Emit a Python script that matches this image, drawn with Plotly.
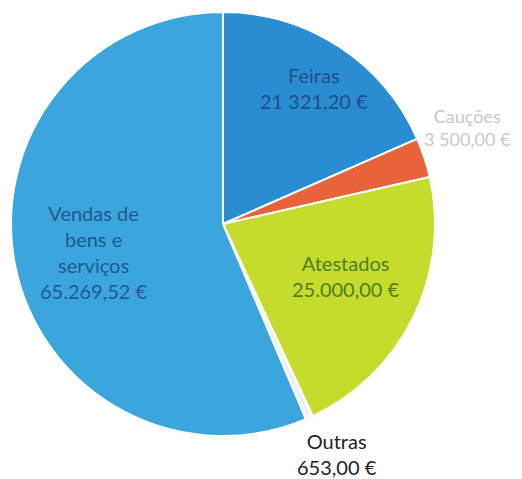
import plotly.graph_objects as go

labels = ["Feiras", "Cauções", "Atestados", "Outras", "Vendas de bens e serviços"]
values = [21321.20, 3500.00, 25000.00, 653.00, 65269.52]
label_texts = ["Feiras<br>21 321,20 €", "Cauções<br>3 500,00 €", "Atestados<br>25.000,00 €",
               "Outras<br>653,00 €", "Vendas de<br>bens e<br>serviços<br>65.269,52 €"]
colors = ["#2a8dd2", "#e8623a", "#c6dc2c", "#eef2f4", "#3ba6de"]
text_colors = ["#1d4f8c", "#c8c8c8", "#4f7d12", "#222222", "#1f5a8e"]
# annotation anchor points (paper coords) for each label
label_x = [0.587, 0.968, 0.647, 0.63, 0.058]
label_y = [0.89, 0.801, 0.441, 0.012, 0.49]
label_xanchor = ["center", "right", "center", "center", "left"]
label_size = [20, 18, 20, 20, 20]

W, H = 522, 479
cx, cy, r = 215, 216, 212

fig = go.Figure(go.Pie(
    labels=labels, values=values, sort=False, direction="clockwise", rotation=0,
    marker=dict(colors=colors, line=dict(color="white", width=2)),
    textinfo="none", hoverinfo="label+value",
    domain=dict(x=[(cx - r) / W, (cx + r) / W], y=[(H - cy - r) / H, (H - cy + r) / H]),
    showlegend=False,
))

for t, c, x, y, xa, s in zip(label_texts, text_colors, label_x, label_y, label_xanchor, label_size):
    fig.add_annotation(text=t, x=x, y=y, xref="paper", yref="paper", showarrow=False,
                       xanchor=xa, font=dict(family="Lato", size=s, color=c), align="center")

fig.update_layout(width=W, height=H, margin=dict(l=0, r=0, t=0, b=0),
                  paper_bgcolor="white", plot_bgcolor="white")
fig.write_html("out.html")
